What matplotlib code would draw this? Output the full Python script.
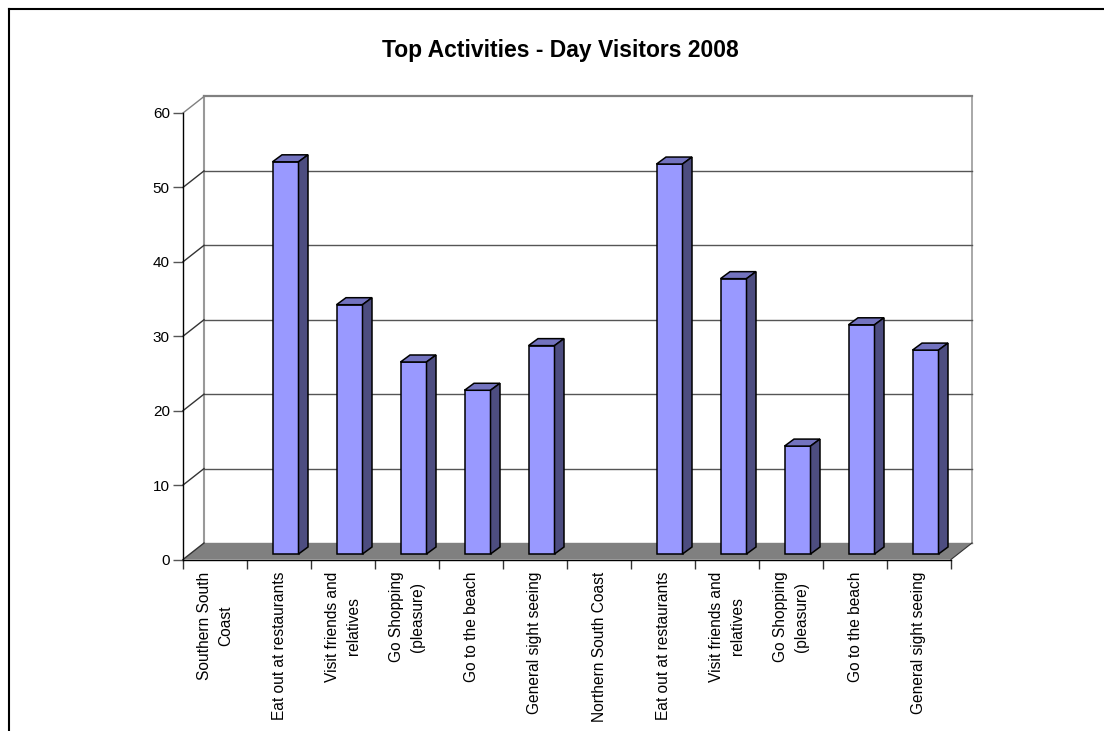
import matplotlib
matplotlib.use("Agg")
import matplotlib.pyplot as plt
from matplotlib.lines import Line2D
from matplotlib.patches import Polygon

plt.rcParams['font.family'] = ['Liberation Sans', 'DejaVu Sans']

categories = ["Southern South\nCoast", "Eat out at restaurants", "Visit friends and\nrelatives",
              "Go Shopping\n(pleasure)", "Go to the beach", "General sight seeing",
              "Northern South Coast", "Eat out at restaurants", "Visit friends and\nrelatives",
              "Go Shopping\n(pleasure)", "Go to the beach", "General sight seeing"]
values = [0, 52.7, 33.5, 25.8, 22.0, 28.0, 0, 52.4, 37.0, 14.5, 30.8, 27.4]
y_ticks = [0, 10, 20, 30, 40, 50, 60]

W, H = 1104, 731
# 3d look: how far the back wall is shifted from the front axes
DX = 21 / 64.0
DY = 16.5 / 7.44
# bar sits inside the floor depth
BAR_DX0 = 6.5 / 64.0
BAR_DY0 = 5.5 / 7.44
BAR_DX = 9.5 / 64.0
BAR_DY = 7 / 7.44
BAR_W = 26 / 64.0

FRONT = '#9999FF'
TOP = '#7373BF'
SIDE = '#4D4D80'
GREY = '#808080'

fig = plt.figure(figsize=(W / 100, H / 100), dpi=100, facecolor='white')
ax = fig.add_axes([183 / W, 1 - 559.5 / H, (951 - 183) / W, (559.5 - 113) / H])
ax.set_xlim(0, 12)
ax.set_ylim(0, 60)
ax.set_facecolor('none')

for s in ['top', 'right']:
    ax.spines[s].set_visible(False)
for s in ['left', 'bottom']:
    ax.spines[s].set_color('black')
    ax.spines[s].set_linewidth(1)
    ax.spines[s].set_zorder(6)

# floor
ax.add_patch(Polygon([(0, 0), (12, 0), (12 + DX, DY), (DX, DY)], closed=True,
                     facecolor=GREY, edgecolor='none', clip_on=False, zorder=1))
# walls and grid
ax.plot([DX, DX], [DY, 60 + DY], color='#999999', lw=1.5, clip_on=False, zorder=2)
ax.plot([12 + DX, 12 + DX], [DY, 60 + DY], color='#999999', lw=1.2, clip_on=False, zorder=2)
for v in y_ticks:
    col = GREY if v in (0, 60) else '#555555'
    lw = 1.6 if v == 60 else 1.0
    ax.plot([DX, 12 + DX], [v + DY, v + DY], color=col, lw=lw, clip_on=False, zorder=2)
    ax.plot([0, DX], [v, v + DY], color=GREY if v == 60 else '#333333', lw=1.0, clip_on=False, zorder=2)
ax.plot([12, 12 + DX], [0, DY], color='#333333', lw=0.8, clip_on=False, zorder=2)

# bars
for i, v in enumerate(values):
    if v == 0:
        continue
    x0 = i + 0.5 - BAR_W / 2 + BAR_DX0
    x1 = x0 + BAR_W
    b = BAR_DY0
    ax.bar(x0, v, width=BAR_W, bottom=b, align='edge', color=FRONT,
           edgecolor='black', linewidth=1.1, clip_on=False, zorder=4)
    ax.add_patch(Polygon([(x0, b + v), (x1, b + v), (x1 + BAR_DX, b + v + BAR_DY), (x0 + BAR_DX, b + v + BAR_DY)],
                         closed=True, facecolor=TOP, edgecolor='black', lw=1.1, clip_on=False, zorder=4))
    ax.add_patch(Polygon([(x1, b), (x1 + BAR_DX, b + BAR_DY), (x1 + BAR_DX, b + v + BAR_DY), (x1, b + v)],
                         closed=True, facecolor=SIDE, edgecolor='black', lw=1.1, clip_on=False, zorder=4))

ax.set_yticks(y_ticks)
ax.tick_params(axis='y', length=7, width=1, color='#555555', pad=2.5, labelsize=11)
ax.set_xticks(range(13))
ax.set_xticklabels([])
ax.tick_params(axis='x', which='major', length=6.5, width=1, color='#333333')
ax.set_xticks([i + 0.5 for i in range(12)], minor=True)
ax.set_xticklabels(categories, minor=True, rotation=90, fontsize=11.2, ha='center', va='top',
                   multialignment='center', linespacing=1.5)
ax.tick_params(axis='x', which='minor', length=0, pad=8.5)

fig.text(560 / W, 1 - 51 / H, "Top Activities - Day Visitors 2008", fontsize=16.5, fontweight='bold',
         ha='center', va='center')

# chart area frame, only top and left show
fig.add_artist(Line2D([8.5 / W, 1], [1 - 9 / H, 1 - 9 / H], color='black', lw=1.5))
fig.add_artist(Line2D([8.5 / W, 8.5 / W], [1 - 9 / H, 0], color='black', lw=1.5))

fig.savefig("out.png", dpi=100)
